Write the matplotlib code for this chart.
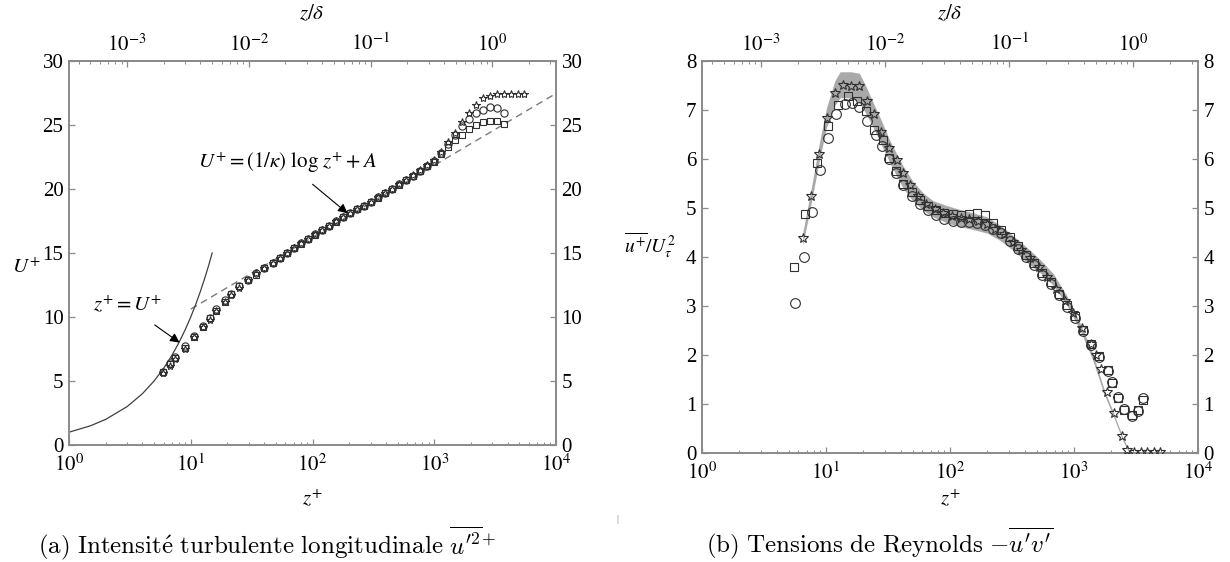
import numpy as np
import matplotlib
matplotlib.use('Agg')
import matplotlib.pyplot as plt
from matplotlib import ticker

plt.rcParams['font.family'] = ['Liberation Serif', 'DejaVu Serif']
plt.rcParams['mathtext.fontset'] = 'stix'

DELTA_PLUS = 3000.0
KAPPA = 0.41
A_CONST = 5.0

# ---------------- left panel data: mean velocity U+ vs z+ ----------------
zp_left = [5.9, 6.7, 7.4, 8.9, 10.6, 12.6, 14.3, 16.2, 19.0, 21.5, 25.0, 29.5, 34.6,
           40, 47, 54, 62, 71, 81, 92, 105, 120, 137, 156, 178, 203, 232, 265, 302,
           345, 394, 450, 514, 587, 670, 765, 873, 997, 1140, 1300, 1480, 1690, 1930,
           2200, 2510, 2870, 3280, 3740]
U_circles = [5.7, 6.4, 6.9, 7.7, 8.5, 9.3, 9.9, 10.6, 11.3, 11.8, 12.4, 12.9, 13.4,
             13.8, 14.2, 14.6, 15.0, 15.4, 15.8, 16.1, 16.5, 16.8, 17.1, 17.5, 17.8, 18.1,
             18.4, 18.7, 19.0, 19.4, 19.7, 20.0, 20.4, 20.7, 21.0, 21.4, 21.8, 22.2,
             22.8, 23.5, 24.2, 24.9, 25.5, 25.9, 26.2, 26.4, 26.3, 25.9]
U_squares = [5.7, 6.3, 6.8, 7.6, 8.4, 9.2, 9.9, 10.5, 11.2, 11.8, 12.4, 12.9, 13.3,
             13.8, 14.2, 14.6, 15.0, 15.4, 15.7, 16.1, 16.4, 16.8, 17.1, 17.4, 17.8, 18.1,
             18.4, 18.7, 19.0, 19.3, 19.7, 20.0, 20.3, 20.7, 21.0, 21.4, 21.8, 22.1,
             22.7, 23.3, 23.8, 24.2, 24.7, 25.0, 25.2, 25.3, 25.3, 25.1]
zp_stars = [5.9, 6.7, 7.4, 8.9, 10.6, 12.6, 14.3, 16.2, 19.0, 21.5, 25.0, 29.5, 34.6,
            40, 47, 54, 62, 71, 81, 92, 105, 120, 137, 156, 178, 203, 232, 265, 302,
            345, 394, 450, 514, 587, 670, 765, 873, 997, 1140, 1300, 1480, 1690, 1930,
            2200, 2510, 2870, 3280, 3740, 4250, 4850, 5500]
U_stars = [5.6, 6.2, 6.7, 7.5, 8.4, 9.2, 9.8, 10.5, 11.2, 11.7, 12.3, 12.9, 13.4,
           13.8, 14.2, 14.6, 15.0, 15.4, 15.8, 16.1, 16.5, 16.8, 17.1, 17.5, 17.8, 18.1,
           18.4, 18.7, 19.0, 19.4, 19.7, 20.0, 20.4, 20.7, 21.1, 21.5, 21.9, 22.3,
           22.9, 23.7, 24.4, 25.2, 25.9, 26.6, 27.1, 27.3, 27.4, 27.4, 27.4, 27.4, 27.4]

# reference laws
zp_visc = [1.0, 1.5, 2.0, 3.0, 4.0, 5.0, 6.0, 7.0, 8.0, 9.0, 10.0, 11.0, 12.0, 13.0, 14.0, 15.0]
zp_loglaw = [10.0, 10000.0]

# ---------------- right panel data: Reynolds stress ----------------
zp_r_stars = [6.5, 7.6, 8.8, 10.1, 11.8, 13.8, 15.9, 18.6, 21.3, 24.5, 27.8, 32.4, 37.2,
              42, 47.6, 55, 64, 75, 88, 104, 122, 143, 168, 197, 232, 272, 320, 376,
              442, 520, 610, 717, 842, 990, 1160, 1360, 1500, 1650, 1850, 2100, 2420,
              2700, 3050, 3450, 3900, 4400, 4950]
uv_stars = [4.38, 5.24, 6.10, 6.83, 7.35, 7.52, 7.49, 7.49, 7.19, 6.92, 6.56, 6.22, 5.98,
            5.71, 5.47, 5.25, 5.08, 4.98, 4.90, 4.84, 4.80, 4.78, 4.74, 4.68, 4.58, 4.46,
            4.30, 4.15, 3.98, 3.80, 3.60, 3.35, 3.10, 2.85, 2.55, 2.22, 2.00, 1.72,
            1.25, 0.82, 0.35, 0.06, 0.03, 0.02, 0.02, 0.02, 0.02]
zp_r_squares = [5.5, 6.8, 8.4, 10.3, 12.4, 15.1, 17.9, 21, 24.5, 28.6, 32.4, 36.7, 42,
                49, 57, 66, 77, 90, 105, 122, 142, 165, 192, 224, 260, 303, 352, 410,
                478, 556, 647, 753, 877, 1020, 1190, 1380, 1600, 1870, 2013, 2276, 2530,
                2918, 3300, 3580]
uv_squares = [3.79, 4.87, 5.91, 6.67, 7.10, 7.29, 7.19, 6.97, 6.59, 6.39, 6.03, 5.76, 5.50,
              5.33, 5.17, 5.05, 4.95, 4.90, 4.88, 4.86, 4.88, 4.90, 4.85, 4.70, 4.55, 4.40,
              4.22, 4.05, 3.88, 3.68, 3.48, 3.25, 3.02, 2.80, 2.52, 2.22, 1.98, 1.70,
              1.42, 1.12, 0.88, 0.78, 0.88, 1.08]
zp_r_circles = [5.6, 6.7, 7.7, 8.9, 10.4, 12.0, 14.1, 16.1, 18.6, 21.3, 25.3, 28.2, 32.4,
                36.7, 42, 49, 57, 66, 77, 90, 105, 122, 142, 165, 192, 224, 260, 303, 352,
                410, 478, 556, 647, 753, 877, 1020, 1190, 1380, 1600, 1870, 2013, 2276,
                2530, 2918, 3300, 3580]
uv_circles = [3.06, 4.01, 4.91, 5.78, 6.42, 6.91, 7.12, 7.15, 7.07, 6.78, 6.49, 6.27, 6.01,
              5.72, 5.47, 5.25, 5.08, 4.96, 4.85, 4.78, 4.74, 4.72, 4.72, 4.70, 4.66, 4.58,
              4.48, 4.32, 4.16, 4.00, 3.84, 3.64, 3.44, 3.22, 2.98, 2.76, 2.48, 2.20, 1.96,
              1.68, 1.44, 1.14, 0.90, 0.76, 0.86, 1.12]
zp_band = [6.5, 7.6, 8.8, 10.1, 11.8, 13.0, 15.9, 18.6, 21.3, 24.5, 27.8, 32.4, 37.2, 42,
           50, 61, 73, 94, 120, 154, 198, 253, 324, 415, 532, 681, 870, 1110, 1400, 1750,
           2100, 2450, 2750]
band_upper = [4.5, 5.4, 6.3, 7.05, 7.6, 7.78, 7.78, 7.75, 7.45, 7.1, 6.8, 6.4, 6.1, 5.85,
              5.55, 5.3, 5.15, 5.05, 4.97, 4.9, 4.82, 4.65, 4.43, 4.2, 3.95, 3.66, 3.22, 2.67,
              2.07, 1.3, 0.8, 0.35, 0.08]
band_lower = [4.25, 5.1, 5.95, 6.65, 7.1, 7.25, 7.25, 7.15, 6.9, 6.6, 6.3, 5.95, 5.65, 5.4,
              5.15, 4.95, 4.82, 4.7, 4.62, 4.56, 4.49, 4.34, 4.13, 3.9, 3.68, 3.42, 3.03,
              2.53, 1.93, 1.2, 0.72, 0.28, 0.02]

x_major = [1, 10, 100, 1000, 10000]
top_major = [1e-3, 1e-2, 1e-1, 1e0]

caption_a = r"$\mathrm{(a)\ Intensit\acute{e}\ turbulente\ longitudinale}\ \overline{u^{\prime 2}}^{+}$"
caption_b = r"$\mathrm{(b)\ Tensions\ de\ Reynolds}\ {-}\overline{u^{\prime}v^{\prime}}$"

W, H = 1230, 562
fig = plt.figure(figsize=(W / 100, H / 100), dpi=100)

SPINE = '#8a8a8a'
EDGE = '#303030'
TFS = 15


def rect(x0, y0, x1, y1):
    return [x0 / W, 1 - y1 / H, (x1 - x0) / W, (y1 - y0) / H]


def pow_fmt(v, pos):
    if v <= 0:
        return ''
    e = int(round(np.log10(v)))
    return r'$10^{%d}$' % e


def style_axes(ax, ylim, yticks):
    ax.set_xscale('log')
    ax.set_xlim(1, 1e4)
    ax.set_ylim(*ylim)
    ax.set_yticks(yticks)
    ax.xaxis.set_major_locator(ticker.FixedLocator(x_major))
    ax.xaxis.set_minor_locator(ticker.LogLocator(base=10, subs=np.arange(2, 10), numticks=20))
    ax.xaxis.set_major_formatter(ticker.FuncFormatter(pow_fmt))
    ax.xaxis.set_minor_formatter(ticker.NullFormatter())
    for s in ax.spines.values():
        s.set_color(SPINE)
        s.set_linewidth(1.4)
    ax.tick_params(which='both', direction='in', color=SPINE, labelsize=TFS,
                   right=True, labelright=True, top=False)
    ax.tick_params(which='major', length=4, width=0.9)
    ax.tick_params(which='minor', length=2.2, width=0.7)
    ax.tick_params(axis='x', pad=7)
    ax.tick_params(axis='y', pad=4)
    sec = ax.secondary_xaxis('top', functions=(lambda z: z / DELTA_PLUS, lambda r: r * DELTA_PLUS))
    sec.xaxis.set_major_locator(ticker.FixedLocator(top_major))
    sec.xaxis.set_minor_locator(ticker.LogLocator(base=10, subs=np.arange(2, 10), numticks=20))
    sec.xaxis.set_major_formatter(ticker.FuncFormatter(pow_fmt))
    sec.xaxis.set_minor_formatter(ticker.NullFormatter())
    sec.tick_params(which='both', direction='in', color=SPINE, labelsize=TFS, pad=4)
    sec.tick_params(which='major', length=4, width=0.9)
    sec.tick_params(which='minor', length=2.2, width=0.7)
    for s in sec.spines.values():
        s.set_color(SPINE)
        s.set_linewidth(1.4)
    return sec


mk = dict(linestyle='none', mfc='none', mec=EDGE, mew=0.8)

# ---------------- left panel ----------------
axL = fig.add_axes(rect(69, 61, 556, 445))
style_axes(axL, (0, 30), np.arange(0, 31, 5))

zl = np.array(zp_loglaw)
axL.plot(zl, np.log(zl) / KAPPA + A_CONST, color='#7a7a7a', lw=1.0, ls=(0, (5, 3.5)), zorder=1)
zv = np.array(zp_visc)
axL.plot(zv, zv, color='#404040', lw=0.9, zorder=1)

axL.plot(zp_left, U_squares, marker='s', ms=4.6, **mk, zorder=3)
axL.plot(zp_left, U_circles, marker='o', ms=5.2, **mk, zorder=3)
axL.plot(zp_stars, U_stars, marker='*', ms=6.0, **mk, zorder=3)

arrow = dict(arrowstyle='-|>', color='k', lw=0.8, mutation_scale=14, shrinkA=7, shrinkB=0)
axL.annotate(r'$U^{+} = (1/\kappa)\ \log\, z^{+} + A$', xy=(194, 18.1),
             xytext=(287, H - 163), textcoords='figure pixels',
             fontsize=15, ha='center', va='center', arrowprops=arrow)
axL.annotate(r'$z^{+} = U^{+}$', xy=(8.1, 8.0), xytext=(128, H - 306),
             textcoords='figure pixels', fontsize=15, ha='center', va='center',
             arrowprops=arrow)

fig.text(26 / W, 1 - 268 / H, r'$U^{+}$', fontsize=15, ha='center', va='center')
fig.text(312 / W, 1 - 500 / H, r'$z^{+}$', fontsize=15, ha='center', va='center')
fig.text(312 / W, 1 - 14 / H, r'$z/\delta$', fontsize=15, ha='center', va='center')

# ---------------- right panel ----------------
axR = fig.add_axes(rect(702, 61, 1198, 453))
style_axes(axR, (0, 8), np.arange(0, 9, 1))

axR.fill_between(zp_band, band_lower, band_upper, color='#a9a9a9', lw=0, zorder=1)
axR.plot(zp_r_squares, uv_squares, marker='s', ms=6.3, **mk, zorder=3)
axR.plot(zp_r_circles, uv_circles, marker='o', ms=7.0, **mk, zorder=3)
axR.plot(zp_r_stars, uv_stars, marker='*', ms=7.5, **mk, zorder=3)

fig.text(676 / W, 1 - 245 / H, r'$\overline{u^{+}}/U_{\tau}^{2}$', fontsize=14,
         ha='right', va='center')
fig.text(950 / W, 1 - 500 / H, r'$z^{+}$', fontsize=15, ha='center', va='center')
fig.text(950 / W, 1 - 14 / H, r'$z/\delta$', fontsize=15, ha='center', va='center')

fig.text(617 / W, 1 - 519 / H, '|', fontsize=7, color='#777777', ha='center', va='center')

# ---------------- captions ----------------
fig.text(38 / W, 1 - 543 / H, caption_a, fontsize=18, math_fontfamily='cm',
         ha='left', va='center')
fig.text(706 / W, 1 - 543 / H, caption_b, fontsize=18, math_fontfamily='cm',
         ha='left', va='center')

fig.savefig('out.png', dpi=100)
